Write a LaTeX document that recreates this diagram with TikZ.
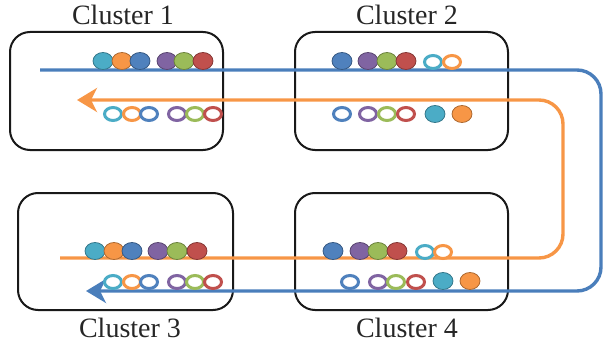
\documentclass[tikz,border=0pt]{standalone}
\usepackage{fontspec}
\setmainfont{Liberation Serif}
\usepackage{xcolor}
\usepackage{tikz}
\usetikzlibrary{arrows.meta}
\definecolor{dotcyan}{RGB}{75,172,198}
\definecolor{dotorange}{RGB}{247,150,70}
\definecolor{dotblue}{RGB}{79,129,189}
\definecolor{dotpurple}{RGB}{128,100,162}
\definecolor{dotgreen}{RGB}{155,187,89}
\definecolor{dotred}{RGB}{192,80,77}
\definecolor{flowblue}{RGB}{74,126,187}
\definecolor{floworange}{RGB}{247,150,70}

\tikzset{
  clusterbox/.style={draw=black!90, line width=2pt, rounded corners=20pt, inner sep=0pt},
  clusterlabel/.style={font=\fontsize{28}{32}\selectfont, text=black!85},
  flowline/.style={line width=3.4pt, rounded corners=24pt,
    -{Stealth[length=20pt, width=24pt, inset=6pt]}},
  fulldot/.style={fill=#1, draw=#1!70!black, line width=0.8pt},
  hollowdot/.style={fill=white, draw=#1, line width=3pt}
}

\begin{document}
\begin{tikzpicture}[x=1pt, y=-1pt]
  \useasboundingbox (0,0) rectangle (603,345);

  % Cluster boxes
  \node[clusterbox, minimum width=213pt, minimum height=118pt] (box1) at (116.5, 91) {};
  \node[clusterbox, minimum width=213pt, minimum height=118pt] (box2) at (401.5, 91) {};
  \node[clusterbox, minimum width=215pt, minimum height=117pt] (box3) at (125.5, 251.5) {};
  \node[clusterbox, minimum width=213pt, minimum height=117pt] (box4) at (401.5, 251.5) {};

  % Cluster titles
  \node[clusterlabel] (title1) at (123, 15) {Cluster 1};
  \node[clusterlabel] (title2) at (407, 15) {Cluster 2};
  \node[clusterlabel] (title3) at (130, 328) {Cluster 3};
  \node[clusterlabel] (title4) at (407, 328) {Cluster 4};

  % Flow lines
  \coordinate (bluestart) at (40, 70);
  \coordinate (blueturn) at (601, 291);
  \coordinate (blueend) at (86, 291);
  \draw[flowline, flowblue] (bluestart) -| (blueturn) -- (blueend);

  \coordinate (orangestart) at (60, 258);
  \coordinate (orangeturn) at (563, 100);
  \coordinate (orangeend) at (77, 100);
  \draw[flowline, floworange] (orangestart) -| (orangeturn) -- (orangeend);

  % Cluster 1 dots
  \foreach \x/\c in {103/dotcyan, 122/dotorange, 140/dotblue, 167/dotpurple, 184/dotgreen, 203/dotred}
    \filldraw[fulldot=\c] (\x, 61) ellipse (10 and 8.5);
  \foreach \x/\c in {113/dotcyan, 132/dotorange, 149/dotblue, 177/dotpurple, 195/dotgreen, 213/dotred}
    \filldraw[hollowdot=\c] (\x, 114) ellipse (8.5 and 6.5);

  % Cluster 2 dots
  \foreach \x/\c in {342/dotblue, 368/dotpurple, 387/dotgreen, 406/dotred}
    \filldraw[fulldot=\c] (\x, 61) ellipse (10 and 8.5);
  \foreach \x/\c in {433/dotcyan, 452/dotorange}
    \filldraw[hollowdot=\c] (\x, 62) ellipse (8.5 and 6.5);
  \foreach \x/\c in {342/dotblue, 368/dotpurple, 387/dotgreen, 406/dotred}
    \filldraw[hollowdot=\c] (\x, 114) ellipse (8.5 and 6.5);
  \foreach \x/\c in {435/dotcyan, 462/dotorange}
    \filldraw[fulldot=\c] (\x, 114) ellipse (10 and 8.5);

  % Cluster 3 dots
  \foreach \x/\c in {95/dotcyan, 114/dotorange, 132/dotblue, 158/dotpurple, 177/dotgreen, 197/dotred}
    \filldraw[fulldot=\c] (\x, 251) ellipse (10 and 8.5);
  \foreach \x/\c in {113/dotcyan, 132/dotorange, 149/dotblue, 177/dotpurple, 195/dotgreen, 213/dotred}
    \filldraw[hollowdot=\c] (\x, 282) ellipse (8.5 and 6.5);

  % Cluster 4 dots
  \foreach \x/\c in {333/dotblue, 360/dotpurple, 378/dotgreen, 397/dotred}
    \filldraw[fulldot=\c] (\x, 251) ellipse (10 and 8.5);
  \foreach \x/\c in {425/dotcyan, 443/dotorange}
    \filldraw[hollowdot=\c] (\x, 252) ellipse (8.5 and 6.5);
  \foreach \x/\c in {350/dotblue, 378/dotpurple, 396/dotgreen, 416/dotred}
    \filldraw[hollowdot=\c] (\x, 282) ellipse (8.5 and 6.5);
  \foreach \x/\c in {443/dotcyan, 470/dotorange}
    \filldraw[fulldot=\c] (\x, 281) ellipse (10 and 8.5);

\end{tikzpicture}
\end{document}
